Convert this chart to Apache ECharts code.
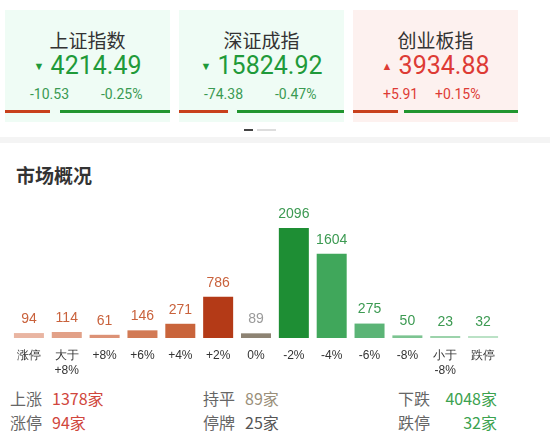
<!DOCTYPE html>
<html><head><meta charset="utf-8">
<script src="https://cdn.jsdelivr.net/npm/echarts@6/dist/echarts.min.js"></script>
<style>
body{margin:0;width:550px;height:447px;background:#fff;font-family:"Noto Sans CJK SC","Noto Sans",sans-serif;position:relative;overflow:hidden}
.a{position:absolute;white-space:nowrap}
.card{position:absolute;top:10px;height:112px;width:165px}
.t{position:absolute;left:0;right:0;top:19px;text-align:center;font-size:19px;color:#333;line-height:22px}
.v{position:absolute;left:0;right:0;top:41px;text-align:center;font-size:25px;line-height:30px;font-family:Roboto,"Noto Sans",sans-serif}
.c{position:absolute;top:76px;font-size:14px;line-height:16px;font-family:Roboto,"Noto Sans",sans-serif}
.bar{position:absolute;top:100px;height:3px}
</style></head><body>
<div id="cards"></div>
<div class="a" style="left:244px;top:129px;width:9px;height:2px;background:#444"></div>
<div class="a" style="left:257px;top:129px;width:19px;height:2px;background:#ddd"></div>
<div class="a" style="left:0;top:137px;width:550px;height:6px;background:#f4f4f4"></div>
<div class="a" style="left:16px;top:163px;font-size:19px;font-weight:bold;color:#333;line-height:24px">市场概况</div>
<div id="chart" class="a" style="left:0;top:190px;width:550px;height:195px"></div>
<div id="foot"></div>
<script>
const indexNames=["上证指数","深证成指","创业板指"];
const indexValues=["4214.49","15824.92","3934.88"];
const indexChg=["-10.53","-74.38","+5.91"];
const indexPct=["-0.25%","-0.47%","+0.15%"];
const categories=["涨停","大于\n+8%","+8%","+6%","+4%","+2%","0%","-2%","-4%","-6%","-8%","小于\n-8%","跌停"];
const counts=[94,114,61,146,271,786,89,2096,1604,275,50,23,32];
const barColors=["#e9b5a2","#e2a188","#dc9276","#d27a55","#c9643b","#b43a17","#8d8373","#1e8e34","#40a75b","#5bb476","#7cc491","#9cd3ab","#bbe2c6"];
const labelColors=["#c9623c","#c9623c","#c9623c","#c9623c","#c9623c","#c9623c","#9a9a9a","#3c9a52","#3c9a52","#3c9a52","#3c9a52","#3c9a52","#3c9a52"];
const footRows=[[["上涨","1378家","#d0463c"],["持平","89家","#9a8f7a"],["下跌","4048家","#3ca24f"]],[["涨停","94家","#d0463c"],["停牌","25家","#555"],["跌停","32家","#3ca24f"]]];

const lefts=[5,179,353];
const barSplits=[[45,55],[49,58],[45,51]];
let h="";
indexNames.forEach((n,i)=>{
  const up=indexChg[i][0]=="+";
  const col=up?"#dd3b35":"#1f9a3a";
  h+=`<div class="card" style="left:${lefts[i]}px;background:${up?'#fdf1ef':'#effcf5'}">
  <div class="t">${n}</div>
  <div class="v" style="color:${col}"><span style="font-size:11px;vertical-align:4px">${up?'▲':'▼'}</span> ${indexValues[i]}</div>
  <div class="c" style="left:${up?30:25}px;color:${up?'#dd3b35':'#3a9a52'}">${indexChg[i]}</div>
  <div class="c" style="left:${up?82:96}px;color:${up?'#dd3b35':'#3a9a52'}">${indexPct[i]}</div>
  <div class="bar" style="left:0;width:${barSplits[i][0]}px;background:#c8401c"></div>
  <div class="bar" style="left:${barSplits[i][1]}px;right:0;background:#21952f"></div></div>`;
});
document.getElementById("cards").innerHTML=h;
const xs=[[10,52],[203,245],[398,null]];
let f="";
footRows.forEach((r,ri)=>{
  const top=387+ri*24;
  r.forEach((c,ci)=>{
    f+=`<div class="a" style="left:${xs[ci][0]}px;top:${top}px;font-size:16px;color:#666;line-height:22px">${c[0]}</div>`;
    if(xs[ci][1]!=null) f+=`<div class="a" style="left:${xs[ci][1]}px;top:${top}px;font-size:16px;color:${c[2]};line-height:22px">${c[1]}</div>`;
    else f+=`<div class="a" style="right:53px;top:${top}px;font-size:16px;color:${c[2]};line-height:22px">${c[1]}</div>`;
  });
});
document.getElementById("foot").innerHTML=f;

const chart=echarts.init(document.getElementById("chart"));
chart.setOption({
  animation:false,
  grid:{left:10,right:48,top:38,bottom:47},
  xAxis:{type:"category",data:categories,axisLine:{show:false},axisTick:{show:false},
    axisLabel:{interval:0,color:"#333",fontSize:12,lineHeight:15,margin:10}},
  yAxis:{type:"value",min:0,max:2096,show:false,splitLine:{show:false}},
  series:[{type:"bar",barWidth:30,barMinHeight:2,
    data:counts.map((v,i)=>({value:v,itemStyle:{color:barColors[i]},label:{color:labelColors[i]}})),
    label:{show:true,position:"top",distance:7,fontSize:14}}]
});
</script></body></html>
